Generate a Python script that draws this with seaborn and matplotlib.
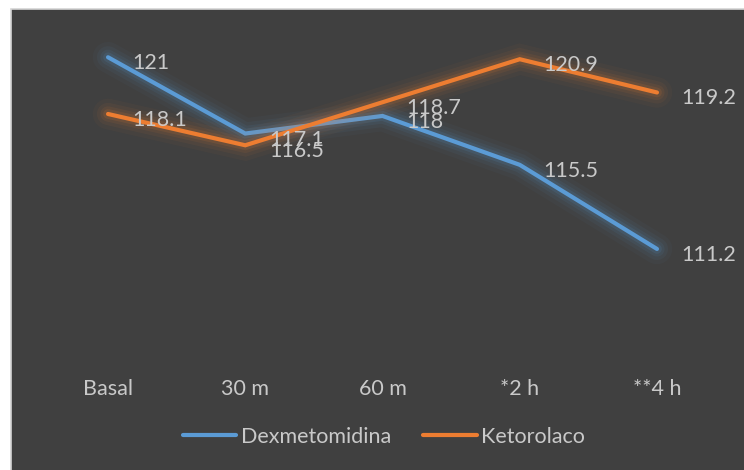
import matplotlib
matplotlib.use("Agg")
import matplotlib.pyplot as plt
import matplotlib.patheffects as pe
from matplotlib.patches import Rectangle
import pandas as pd
import seaborn as sns

# Mean arterial pressure readings per time point
categories = ["Basal", "30 m", "60 m", "*2 h", "**4 h"]
dexmetomidina = [121, 117.1, 118, 115.5, 111.2]
ketorolaco = [118.1, 116.5, 118.7, 120.9, 119.2]
series_names = ["Dexmetomidina", "Ketorolaco"]
colors = ["#5B9BD5", "#ED7D31"]

df = pd.DataFrame({
    "tiempo": categories * 2,
    "valor": dexmetomidina + ketorolaco,
    "grupo": [series_names[0]] * len(categories) + [series_names[1]] * len(categories),
})

sns.set_theme(style="white")
plt.rcParams["font.family"] = ["Lato", "DejaVu Sans"]

FS = 15.5
TEXT = "#c9c9c9"
W, H = 744, 470
fig = plt.figure(figsize=(W / 100, H / 100), dpi=100)
fig.patch.set_facecolor("white")

# dark chart panel with a thin light frame (right/bottom edges run off the canvas)
panel = Rectangle((10.5 / W, -0.05), 1.2, (H - 8.5) / H + 0.05, transform=fig.transFigure,
                  facecolor="#404040", edgecolor="#d4d4d4", linewidth=1.2, zorder=-10)
fig.patches.append(panel)

left_px, right_px = 39.4, 725.6
top_px, bottom_px = 37.7, 370.2
ax = fig.add_axes([left_px / W, 1 - bottom_px / H, (right_px - left_px) / W, (bottom_px - top_px) / H])
ax.set_facecolor("none")
ax.set_zorder(2)

palette = dict(zip(series_names, colors))
sns.lineplot(data=df, x="tiempo", y="valor", hue="grupo", palette=palette, sort=False,
             linewidth=3.0, ax=ax, legend=False)

for line, c in zip(ax.lines, colors):
    line.set_solid_capstyle("round")
    line.set_solid_joinstyle("miter")
    line.set_path_effects([
        pe.Stroke(linewidth=22, foreground=c, alpha=0.04),
        pe.Stroke(linewidth=16, foreground=c, alpha=0.06),
        pe.Stroke(linewidth=11, foreground=c, alpha=0.08),
        pe.Stroke(linewidth=7, foreground=c, alpha=0.12),
        pe.Normal(),
    ])

ax.set_xlim(-0.5, len(categories) - 0.5)
ax.set_ylim(105, 122)
ax.set_yticks([])
ax.set_xlabel("")
ax.set_ylabel("")
for s in ax.spines.values():
    s.set_visible(False)
ax.tick_params(axis="x", length=0, pad=6, labelsize=FS, labelcolor=TEXT)

for vals in (dexmetomidina, ketorolaco):
    for i, v in enumerate(vals):
        ax.annotate(f"{v:g}", xy=(i, v), xytext=(24, -6), textcoords="offset pixels",
                    ha="left", va="center", fontsize=FS, color=TEXT)

handles = [plt.Line2D([], [], color=c, linewidth=3.0, solid_capstyle="round") for c in colors]
leg = fig.legend(handles, series_names, loc="center", bbox_to_anchor=(384 / W, 1 - 437 / H),
                 ncol=2, frameon=False, fontsize=FS, handlelength=2.5, handletextpad=0.2,
                 columnspacing=1.5)
leg.set_zorder(3)
for t in leg.get_texts():
    t.set_color(TEXT)

fig.savefig("out.png", dpi=100, facecolor=fig.get_facecolor())
